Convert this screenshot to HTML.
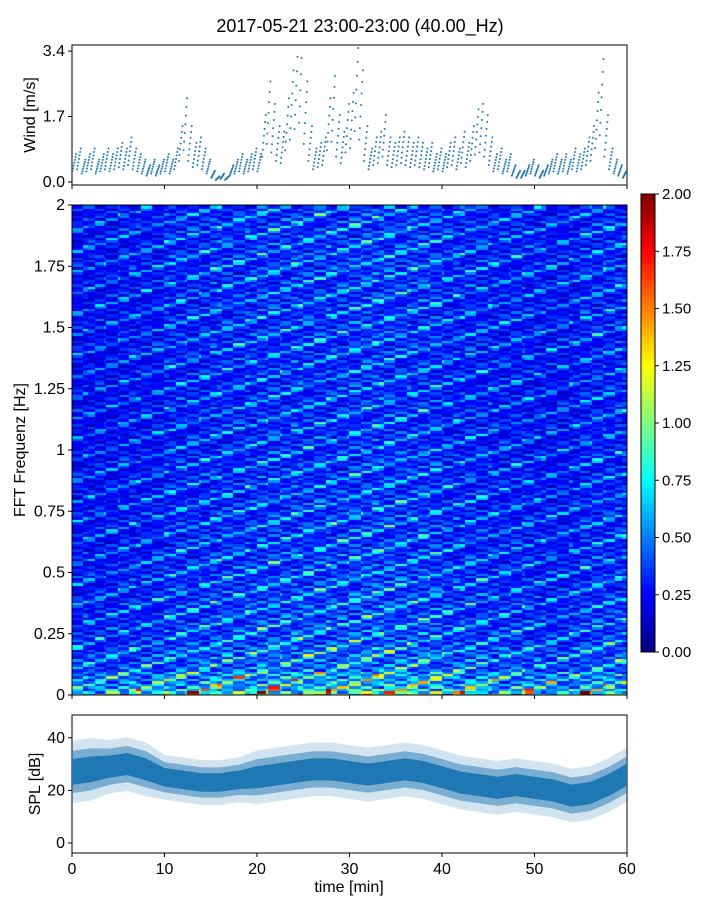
<!DOCTYPE html>
<html><head><meta charset="utf-8">
<style>
html,body{margin:0;padding:0;background:#fff;}
body{width:720px;height:900px;position:relative;overflow:hidden;font-family:"Liberation Sans",sans-serif;}
svg text{font-family:"Liberation Sans",sans-serif;fill:#000;}
#heat{position:absolute;left:72px;top:205px;}
</style></head>
<body>
<canvas id="heat" width="555" height="490"></canvas>
<svg id="chart" width="720" height="900" style="position:absolute;left:0;top:0">
<defs>
<linearGradient id="jet" x1="0" y1="1" x2="0" y2="0">
<stop offset="0" stop-color="#00007f"/><stop offset="0.125" stop-color="#0000ff"/>
<stop offset="0.375" stop-color="#00ffff"/><stop offset="0.625" stop-color="#ffff00"/>
<stop offset="0.875" stop-color="#ff0000"/><stop offset="1" stop-color="#7f0000"/>
</linearGradient>
<clipPath id="clipSpl"><rect x="72" y="715" width="555" height="138"/></clipPath>
<clipPath id="clipWind"><rect x="72" y="45" width="555" height="140"/></clipPath>
</defs>
<text x="360" y="32" font-size="18" text-anchor="middle">2017-05-21 23:00-23:00 (40.00_Hz)</text>
<g id="wind"></g>
<g id="spec"></g>
<g id="cbar"></g>
<g id="spl"></g>
</svg>
<script>
const windValues=[0.5,0.6,0.4,0.5,0.6,0.4,0.5,0.6,0.5,0.6,
0.7,0.6,0.8,0.6,0.5,0.4,0.3,0.4,0.3,0.4,
0.5,0.4,0.6,1.0,1.5,1.0,0.7,0.8,0.6,0.4,
0.2,0.1,0.15,0.1,0.3,0.4,0.5,0.4,0.5,0.6,
0.5,1.2,1.8,1.4,1.0,0.9,1.5,2.0,2.5,2.8,
1.8,1.0,0.6,0.7,0.8,1.5,1.9,1.2,0.9,1.4,
1.6,2.4,2.0,1.0,0.6,0.8,0.9,1.2,0.8,0.7,
0.8,0.9,0.8,0.7,0.8,0.7,0.6,0.7,0.5,0.6,
0.5,0.7,0.8,0.6,0.9,0.7,1.0,1.3,1.4,1.2,
0.8,0.5,0.6,0.4,0.5,0.3,0.2,0.2,0.3,0.4,
0.3,0.2,0.3,0.4,0.5,0.4,0.5,0.4,0.6,0.5,
0.6,0.8,1.0,1.6,2.2,1.2,0.6,0.4,0.3,0.2];
const windTicks=[0.0,1.7,3.4];
const splMean=[27,28,29,30,28,25,24,23,23,24,25,26,27,28,28,27,26,27,28,27,25,23,22,21,22,21,20,18,19,22,26];
const splSpread=[7,7,6,6,6,5,5,5,5,5,6,6,6,6,6,6,6,6,6,6,6,6,6,6,6,6,6,6,6,6,6];
const splTicks=[0,20,40];
const timeTicks=[0,10,20,30,40,50,60];
const freqTicks=[0,0.25,0.5,0.75,1,1.25,1.5,1.75,2];
const freqLabels=["0","0.25","0.5","0.75","1","1.25","1.5","1.75","2"];
const cbarTicks=[0,0.25,0.5,0.75,1,1.25,1.5,1.75,2];
const rowBase=[0.55,0.42,0.37,0.35,0.34,0.33,0.32,0.32,0.31,0.31,0.30,0.30,0.30,0.30,0.31,0.31,0.31,0.32,0.32,0.32];
const lowRows=[0.95,0.8,0.7,0.62,0.58,0.55];
const colFactor=[0.85,0.9,1.0,1.05,1.1,1.1,1.15,1.1,1.0,0.95,0.9,1.0];
const texA=[1.0,0.6,1.4,0.8,1.9,0.7,1.1,0.5,1.3,0.9,1.6,0.6,1.0,1.2,0.7,2.2,0.9];
const texB=[1.0,1.2,0.8,1.1,0.9,1.3,0.7,1.0,1.15,0.85,1.25,0.95,1.05];

const NS='http://www.w3.org/2000/svg';
function mk(parent,tag,attrs,name,txt){const e=document.createElementNS(NS,tag);for(const k in attrs)e.setAttribute(k,attrs[k]);


if(txt!==undefined)e.textContent=txt;parent.appendChild(e);return e;}
const X0=72,X1=627;
const xT=t=>X0+(X1-X0)*t/60;
const yW=v=>182-v*38.5;
const yF=f=>695-f*245;
const yS=d=>843-d*2.63;
const yC=v=>652-v*229;

// Wind
const gw=document.getElementById('wind');
mk(gw,'rect',{x:72,y:45,width:555,height:140,fill:'none',stroke:'#000','stroke-width':1},'wind-frame');
const gp=mk(gw,'g',{'clip-path':'url(#clipWind)',fill:'#1f77b4'},'wind-points');
const mults=[0.55,0.7,0.85,1,1.15,1.3,1.45];
windValues.forEach((v,i)=>{const t=i*0.5+0.25;mults.forEach((m,j)=>{
 const c=document.createElementNS(NS,'circle');c.setAttribute('cx',xT(t)+(j-3)*0.6);c.setAttribute('cy',yW(v*m));c.setAttribute('r',1);
 
 
 gp.appendChild(c);});});
windTicks.forEach(v=>{mk(gw,'line',{x1:68,x2:72,y1:yW(v),y2:yW(v),stroke:'#000'},'wind-y-tick');
 mk(gw,'text',{x:65,y:yW(v)+5,'font-size':16,'text-anchor':'end'},'wind-y-label',v.toFixed(1));});
timeTicks.forEach(t=>mk(gw,'line',{x1:xT(t),x2:xT(t),y1:185,y2:189,stroke:'#000'},'wind-x-tick'));
mk(gw,'text',{x:35,y:115,'font-size':16,'text-anchor':'middle',transform:'rotate(-90 35 115)'},'wind-y-title','Wind [m/s]');

// Heatmap
function jet(v){let x=Math.max(0,Math.min(1,v/2));
 const r=Math.max(0,Math.min(1,1.5-Math.abs(4*x-3))),g=Math.max(0,Math.min(1,1.5-Math.abs(4*x-2))),b=Math.max(0,Math.min(1,1.5-Math.abs(4*x-1)));
 return 'rgb('+Math.round(r*255)+','+Math.round(g*255)+','+Math.round(b*255)+')';}
const cv=document.getElementById('heat'),ctx=cv.getContext('2d');
const NC=240,NR=200,df=2/NR,dt=60/NC;
for(let r=0;r<NR;r++){for(let c=0;c<NC;c++){
 let base=r<lowRows.length?lowRows[r]:rowBase[Math.floor(r/10)];
 let v=base*colFactor[Math.floor(c/20)]*texA[(r*5+Math.floor(c/5))%17]*texB[(r*3+Math.floor(c/7))%13];
 ctx.fillStyle=jet(v);
 const x=xT(c*dt)-X0,x2=xT((c+1)*dt)-X0,y=yF((r+1)*df)-205,y2=yF(r*df)-205;
 ctx.fillRect(Math.floor(x),Math.floor(y),Math.ceil(x2-x)+1,Math.ceil(y2-y)+1);}}
const gs=document.getElementById('spec');
mk(gs,'rect',{x:72,y:205,width:555,height:490,fill:'none',stroke:'#000'},'spectrogram-frame');
freqTicks.forEach((f,i)=>{mk(gs,'line',{x1:68,x2:72,y1:yF(f),y2:yF(f),stroke:'#000'},'freq-tick');
 mk(gs,'text',{x:65,y:yF(f)+5,'font-size':16,'text-anchor':'end'},'freq-label',freqLabels[i]);});
timeTicks.forEach(t=>mk(gs,'line',{x1:xT(t),x2:xT(t),y1:695,y2:699,stroke:'#000'},'spec-x-tick'));
mk(gs,'text',{x:25,y:450,'font-size':16,'text-anchor':'middle',transform:'rotate(-90 25 450)'},'freq-axis-title','FFT Frequenz [Hz]');

// Colorbar
const gc=document.getElementById('cbar');
mk(gc,'rect',{x:641,y:194,width:14,height:458,fill:'url(#jet)',stroke:'#000'},'colorbar-gradient');
cbarTicks.forEach(v=>{mk(gc,'line',{x1:655,x2:659,y1:yC(v),y2:yC(v),stroke:'#000'},'colorbar-tick');
 mk(gc,'text',{x:662,y:yC(v)+5,'font-size':15},'colorbar-label',v.toFixed(2));});

// SPL
const gl=document.getElementById('spl');
mk(gl,'rect',{x:72,y:715,width:555,height:138,fill:'none',stroke:'#000'},'spl-frame');
const ts=splMean.map((_,i)=>i*2);
function band(k,op,name){let up=ts.map((t,i)=>xT(t)+','+yS(splMean[i]+splSpread[i]*k)),lo=ts.map((t,i)=>xT(t)+','+yS(splMean[i]-splSpread[i]*k)).reverse();
 mk(gl,'polygon',{points:up.concat(lo).join(' '),fill:'#1f77b4',opacity:op,'clip-path':'url(#clipSpl)'},name);}
band(1.7,0.2,'spl-outer-band');band(1.15,0.5,'spl-mid-band');band(0.7,1,'spl-inner-band');
splTicks.forEach(d=>{mk(gl,'line',{x1:68,x2:72,y1:yS(d),y2:yS(d),stroke:'#000'},'spl-y-tick');
 mk(gl,'text',{x:65,y:yS(d)+5,'font-size':16,'text-anchor':'end'},'spl-y-label',String(d));});
timeTicks.forEach(t=>{mk(gl,'line',{x1:xT(t),x2:xT(t),y1:853,y2:857,stroke:'#000'},'time-tick');
 mk(gl,'text',{x:xT(t),y:874,'font-size':16,'text-anchor':'middle'},'time-label',String(t));});
mk(gl,'text',{x:349,y:892,'font-size':16,'text-anchor':'middle'},'time-axis-title','time [min]');
mk(gl,'text',{x:40,y:784,'font-size':16,'text-anchor':'middle',transform:'rotate(-90 40 784)'},'spl-y-title','SPL [dB]');
</script>
</body></html>
